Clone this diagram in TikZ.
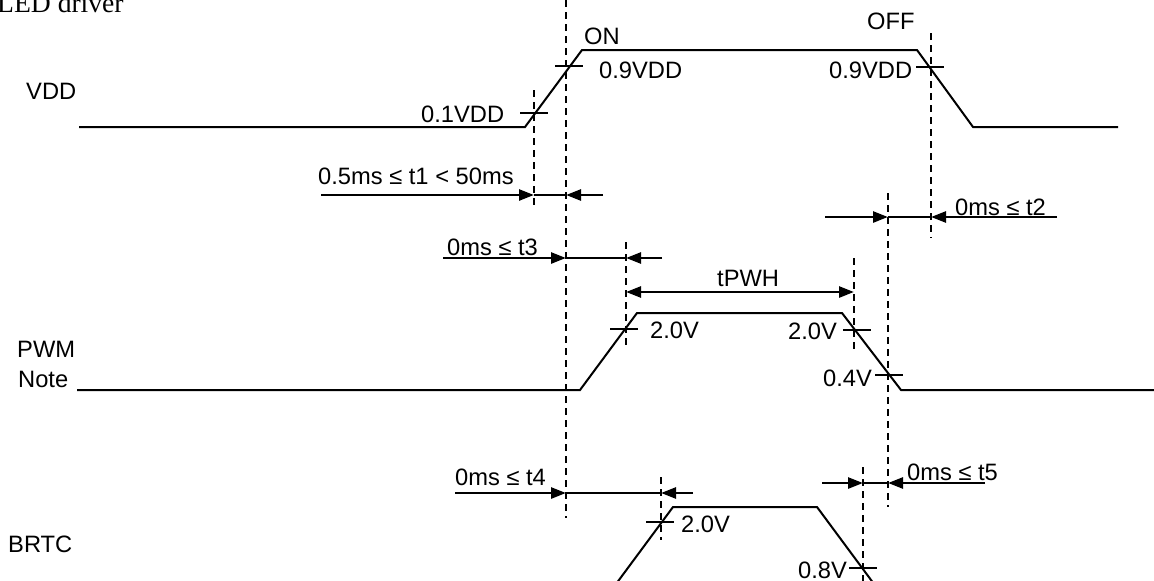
\documentclass[tikz,border=0pt]{standalone}
\usepackage{fontspec}
\setmainfont{Liberation Sans}
\newfontfamily\titlefont{Liberation Serif}
\usetikzlibrary{arrows.meta}
\newcommand{\lvl}[2]{\draw[wave] (#1-14,#2)--(#1+14,#2);}
\newcommand{\gapmark}[5]{\draw[dimarr] (#2,#1)--(#3,#1);\draw[line width=1.3pt] (#3,#1)--(#4,#1);\draw[dimarr] (#5,#1)--(#4,#1);}

\begin{document}
\begin{tikzpicture}[x=1pt,y=-1pt,
  wave/.style={line width=2pt},
  guide/.style={line width=1.8pt,dash pattern=on 7pt off 5pt},
  dimarr/.style={line width=2.6pt,-{Triangle[length=15pt,width=11pt]}},
  txt/.style={anchor=base west,inner sep=0pt,font=\fontsize{23.7}{28}\selectfont}]
\useasboundingbox (0,0) rectangle (1154,581);
\clip (0,0) rectangle (1154,581);
\node[anchor=base west,inner sep=0pt,font=\titlefont\fontsize{27.6}{32}\selectfont] (title) at (-3,12) {LED driver};
% signal names
\node[txt] (vdd) at (26,99) {VDD};
\node[txt] (pwm) at (17,357) {PWM};
\node[txt] (note) at (18,387) {Note};
\node[txt] (brtc) at (8,552) {BRTC};
% waveforms
\draw[wave] (79,127)--(525,127)--(582,50)--(917,50)--(973,127)--(1118,127);
\draw[wave] (77,390)--(580,390)--(637,313)--(842,313)--(901,390)--(1154,390);
\draw[wave] (616,584)--(673,507)--(817,507)--(874,584);
% level marks
\lvl{534}{113}\lvl{569}{66}\lvl{930}{67}
\lvl{624}{329}\lvl{857}{330}\lvl{889}{375}
\lvl{660}{522}\lvl{863}{568}
\node[txt] (on) at (584,44) {ON};
\node[txt] (off) at (867,29) {OFF};
\node[txt] (lo1) at (421,122) {0.1VDD};
\node[txt] (hi1) at (599,78) {0.9VDD};
\node[txt] (hi2) at (829,78) {0.9VDD};
\node[txt] (pwmhi1) at (650,338) {2.0V};
\node[txt] (pwmhi2) at (788,339) {2.0V};
\node[txt] (pwmlo) at (823,386) {0.4V};
\node[txt] (brtchi) at (681,532) {2.0V};
\node[txt] (brtclo) at (798,578) {0.8V};
% guides
\draw[guide] (534,90)--(534,208);
\draw[guide] (566,0)--(566,518);
\draw[guide] (931,33)--(931,238);
\draw[guide] (888,193)--(888,507);
\draw[guide] (626,242)--(626,347);
\draw[guide] (854,258)--(854,350);
\draw[guide] (661,477)--(661,540);
\draw[guide] (863,467)--(863,581);
% timings
\gapmark{195}{321}{534}{566}{603}
\node[txt] (t1) at (318,184) {0.5ms ≤ t1 < 50ms};
\gapmark{217}{825}{888}{931}{1057}
\node[txt] (t2) at (955,215) {0ms ≤ t2};
\gapmark{258}{443}{566}{626}{662}
\node[txt] (t3) at (447,255) {0ms ≤ t3};
\draw[line width=2.6pt,{Triangle[length=15pt,width=11pt]}-{Triangle[length=15pt,width=11pt]}] (626,292)--(854,292);
\node[txt] (tpwh) at (717,286) {tPWH};
\gapmark{493}{455}{566}{661}{693}
\node[txt] (t4) at (455,485) {0ms ≤ t4};
\gapmark{483}{822}{863}{888}{985}
\node[txt] (t5) at (907,480) {0ms ≤ t5};
\end{tikzpicture}
\end{document}
